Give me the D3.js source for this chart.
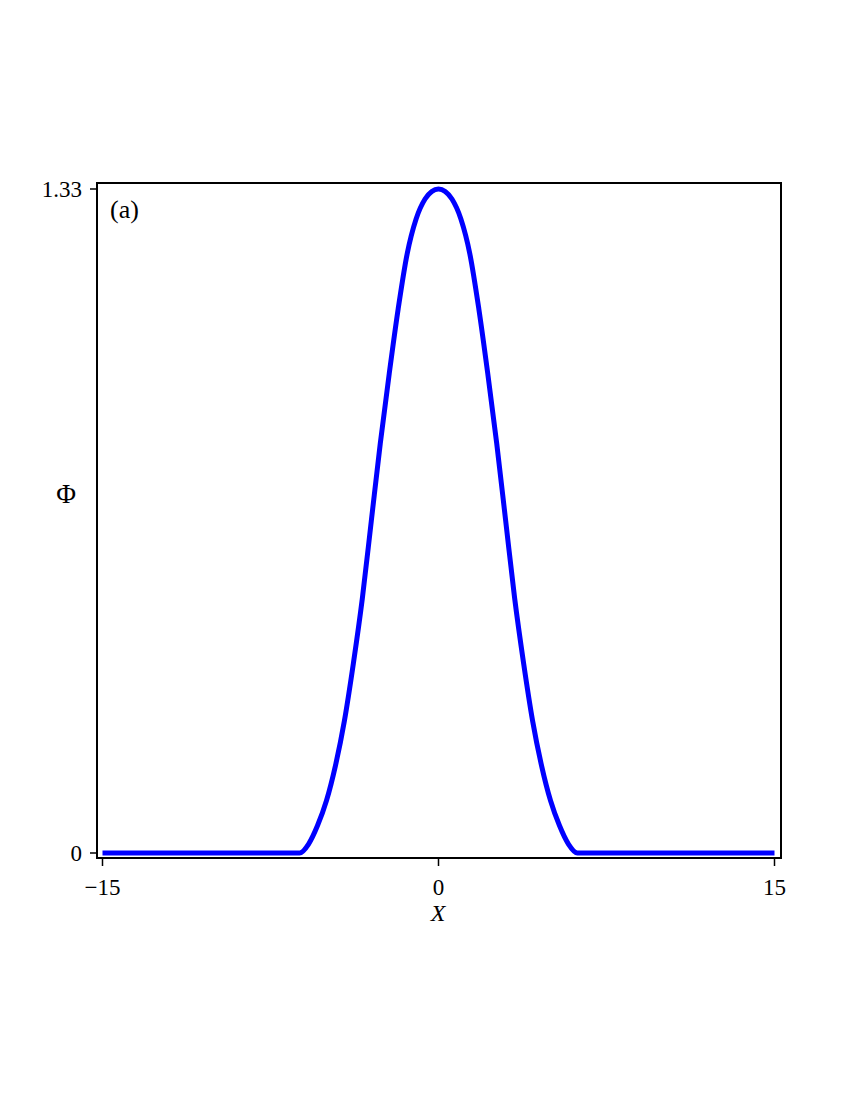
<!DOCTYPE html>
<html>
<head>
<meta charset="utf-8">
<script src="https://cdn.jsdelivr.net/npm/d3@7"></script>
<style>
  body { margin: 0; background: #fff; }
  text { font-family: "Liberation Serif", "Times New Roman", serif; fill: #000; }
</style>
</head>
<body>
<svg id="chart" width="850" height="1100"></svg>
<script>
// values (symmetric pulse)
var xHalf   = [-15, -6.2, -5.8, -5.4, -5.0, -4.6, -4.2, -3.8, -3.4, -3.0, -2.6, -2.2, -1.8, -1.4, -1.0, -0.6, -0.3, 0];
var phiHalf = [0, 0, 0.018, 0.055, 0.105, 0.175, 0.265, 0.38, 0.51, 0.665, 0.82, 0.96, 1.09, 1.2, 1.27, 1.31, 1.325, 1.33];
var xTicks = [-15, 0, 15];
var yTicks = [0, 1.33];
var yTickLabels = ["0", "1.33"];

var xs = xHalf.concat(xHalf.slice(0, -1).reverse().map(function (d) { return -d; }));
var phis = phiHalf.concat(phiHalf.slice(0, -1).reverse());
var data = xs.map(function (d, i) { return { x: d, y: phis[i] }; });

var svg = d3.select("#chart");
var box = { left: 97, top: 183, right: 781, bottom: 858 };

var x = d3.scaleLinear().domain([-15, 15]).range([102.5, 774.5]);
var y = d3.scaleLinear().domain([0, 1.33]).range([853, 189]);

// frame
svg.append("rect")
    .attr("x", box.left).attr("y", box.top)
    .attr("width", box.right - box.left).attr("height", box.bottom - box.top)
    .attr("fill", "none").attr("stroke", "#000").attr("stroke-width", 2);

// x ticks
var xg = svg.append("g");
xg.selectAll("line").data(xTicks).enter().append("line")
    .attr("x1", function (d) { return x(d); }).attr("x2", function (d) { return x(d); })
    .attr("y1", box.bottom).attr("y2", box.bottom + 8)
    .attr("stroke", "#000").attr("stroke-width", 1.5);
xg.selectAll("text").data(xTicks).enter().append("text")
    .attr("x", function (d) { return x(d); })
    .attr("y", 895)
    .attr("text-anchor", "middle")
    .attr("font-size", 23)
    .text(function (d) { return d < 0 ? "\u2212" + Math.abs(d) : d; });

// y ticks
var yg = svg.append("g");
yg.selectAll("line").data(yTicks).enter().append("line")
    .attr("x1", box.left - 7).attr("x2", box.left)
    .attr("y1", function (d) { return y(d); }).attr("y2", function (d) { return y(d); })
    .attr("stroke", "#000").attr("stroke-width", 1.5);
yg.selectAll("text").data(yTicks).enter().append("text")
    .attr("x", 82)
    .attr("y", function (d) { return y(d) + 8; })
    .attr("text-anchor", "end")
    .attr("font-size", 23)
    .text(function (d, i) { return yTickLabels[i]; });

// axis titles
svg.append("text")
    .attr("x", 438).attr("y", 921)
    .attr("text-anchor", "middle")
    .attr("font-size", 24)
    .attr("font-style", "italic")
    .text("X");
svg.append("text")
    .attr("x", 66).attr("y", 503)
    .attr("text-anchor", "middle")
    .attr("font-size", 27)
    .text("\u03A6");
svg.append("text")
    .attr("x", 110).attr("y", 218)
    .attr("font-size", 26)
    .text("(a)");

// curve
var line = d3.line()
    .curve(d3.curveMonotoneX)
    .x(function (d) { return x(d.x); })
    .y(function (d) { return y(d.y); });

svg.append("path")
    .datum(data)
    .attr("d", line)
    .attr("fill", "none")
    .attr("stroke", "#0000ff")
    .attr("stroke-width", 5)
    .attr("stroke-linejoin", "round");
</script>
</body>
</html>
